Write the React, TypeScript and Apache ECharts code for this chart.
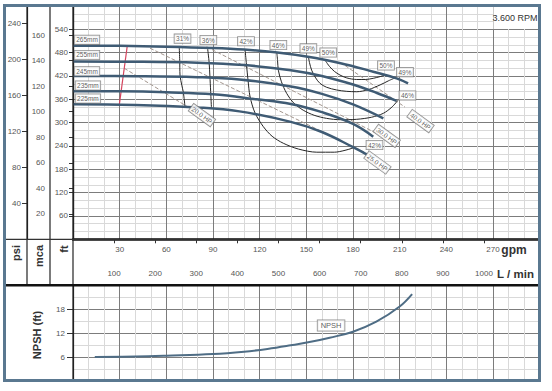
import React, { useEffect, useRef } from 'react';
import * as echarts from 'echarts';

// ---------------- data ----------------
const GPM_MAX = 300;
const FT_MAX = 600;
const FT_PER_PSI = 2.31;
const FT_PER_M = 3.281;
const LPM_PER_GPM = 3.78541;

const gpmTicks = [30, 60, 90, 120, 150, 180, 210, 240, 270];
const lpmTicks = [100, 200, 300, 400, 500, 600, 700, 800, 900, 1000];
const ftTicks = [60, 120, 180, 240, 300, 360, 420, 480, 540];
const mcaTicks = [20, 40, 60, 80, 100, 120, 140, 160];
const psiTicks = [40, 80, 120, 160, 200, 240];
const npshTicks = [6, 12, 18];

// head curves [gpm, ft]
const head265 = [[0, 498], [30, 497.5], [60, 495.5], [90, 492], [110, 488], [130, 481], [150, 470], [172, 453], [193, 431], [208, 414], [215.4, 401]];
const head255 = [[0, 457], [40, 456.5], [80, 454], [110, 448], [140, 435], [160, 420], [180, 398], [195, 377], [208, 356]];
const head245 = [[0, 420], [40, 419.5], [80, 417], [107, 411], [140, 393], [160, 374], [180, 347], [199.5, 311]];
const head235 = [[0, 381], [30, 380.5], [60, 378], [90, 373], [118, 360], [140, 348], [160, 327], [180, 297], [193, 264]];
const head225 = [[0, 347], [40, 345.5], [80, 339], [107, 329], [140, 302], [160, 276], [180, 237], [189, 218]];

// iso-efficiency curves [gpm, ft]
const eff31 = [[68.3, 494], [68.6, 460], [68.8, 422], [70, 395], [70.9, 379], [72, 341]];
const eff36 = [[86.5, 492], [87.5, 455], [88, 420], [88.5, 380], [89, 337]];
const eff42 = [[110.6, 488], [111.5, 450], [112.5, 410], [113.8, 367], [117, 325], [122.3, 290], [128, 265], [135.2, 247], [145, 232], [156.7, 224], [168, 224], [180.2, 235]];
const eff46 = [[131, 481], [131.5, 460], [132, 435], [134, 405], [137.4, 375], [142, 350], [148, 332], [155, 319], [163, 311], [172, 307.5], [182.4, 308.6], [192, 314], [199.5, 324], [205, 340], [209, 358]];
const eff49 = [[151.3, 470], [152, 455], [153.4, 435], [156, 415], [158.8, 401], [163, 391], [169.5, 384], [176, 380.5], [182.4, 379.5], [190, 385], [197.4, 397], [203, 408], [207, 415]];
const eff50 = [[162, 461], [163.5, 452], [165, 444], [168, 432], [171.6, 422.5], [176, 415], [182.4, 411], [188, 411], [193, 414], [197.5, 418.5], [201.7, 424]];

// power lines [gpm, ft]
const hp20 = [[32.9, 440], [75.2, 337]];
const hp25 = [[49.5, 491.5], [188.6, 221.7]];
const hp30 = [[85.9, 495], [194.7, 273.3]];
const hp40 = [[174.9, 447], [213.4, 340]];
const minFlow = [[34.9, 497.8], [29.8, 347]];

// NPSH required [gpm, ft]
const npsh = [[14, 6.1], [40, 6.2], [60, 6.4], [90, 6.8], [110, 7.4], [125, 8.1], [140, 9], [152, 9.8], [165, 10.9], [180, 12.4], [195, 14.9], [210, 18.7], [218, 21.8]];

// annotation anchors [text, gpm, ft]
const diameterLabels: [string, number, number][] = [
  ['265mm', 9, 513], ['255mm', 9, 474], ['245mm', 9, 432], ['235mm', 9.6, 395.5], ['225mm', 9.6, 362],
];
const effLabels: [string, number, number][] = [
  ['31%', 70.4, 516], ['36%', 87, 512.5], ['42%', 111.2, 509.5], ['46%', 132, 499.6], ['49%', 151.3, 491], ['50%', 164.1, 480.3],
  ['50%', 201.2, 447], ['49%', 213.4, 430], ['46%', 215, 370], ['42%', 193.8, 242.5],
];
const hpLabels: [string, number, number][] = [
  ['20.0 HP', 82.9, 319.4], ['25.0 HP', 195.7, 197.5], ['30.0 HP', 201.7, 266], ['40.0 HP', 223.4, 304],
];
const npshLabel: [string, number, number] = ['NPSH', 165.9, 13.95];

const FONT = '"Liberation Sans", Arial, sans-serif';

export default function App() {
  const ref = useRef<HTMLDivElement>(null);
  useEffect(() => {
    const chart = echarts.init(ref.current!, null, { renderer: 'svg' });
    const majorGrid = { show: true, lineStyle: { color: '#7c7c7c', width: 1 } };
    const minorGrid = { show: true, lineStyle: { color: '#d9d9d9', width: 1 } };
    const lbl = { color: '#555', fontSize: 8, fontFamily: FONT, formatter: (v: number) => String(v) };
    const axLine = { show: true, lineStyle: { color: '#222', width: 1.2 } };
    const tick = (vals: number[], len: number) => ({ show: true, inside: false, length: len, customValues: vals, lineStyle: { color: '#333', width: 1 } });

    const line = (data: number[][], color: string, width: number, z: number, smooth: number | boolean, type: any = 'solid', xi = 0, yi = 0) => ({
      type: 'line', data, xAxisIndex: xi, yAxisIndex: yi, smooth, symbol: 'none', silent: true, z,
      lineStyle: { color, width, type },
    });

    const boxLabel = {
      show: true, position: 'inside', formatter: '{b}', fontSize: 6.5, fontFamily: FONT, color: '#333',
      backgroundColor: '#fff', borderColor: '#777', borderWidth: 0.8, padding: [1, 1.5, 0.5, 1.5], lineHeight: 7,
    };

    const labelData = [
      ...diameterLabels.map(([t, x, y]) => ({ name: t, value: [x, y] })),
      ...effLabels.map(([t, x, y]) => ({ name: t, value: [x, y] })),
      ...hpLabels.map(([t, x, y]) => ({ name: t, value: [x, y], label: { rotate: -36 } })),
    ];

    const headColor = '#3f5b74';

    chart.setOption({
      animation: false,
      backgroundColor: '#fff',
      grid: [
        { left: 73, top: 6, width: GPM_MAX * 1.5556, height: 233.3 },
        { left: 73, top: 285.3, width: GPM_MAX * 1.5556, height: 96 },
      ],
      xAxis: [
        {
          gridIndex: 0, type: 'value', min: 0, max: GPM_MAX, interval: 30,
          axisLine: { show: true, lineStyle: { color: '#333', width: 1.2 } }, axisTick: { show: false },
          axisLabel: { ...lbl, margin: 6, customValues: gpmTicks },
          splitLine: majorGrid, minorTick: { show: false, splitNumber: 3 }, minorSplitLine: minorGrid,
        },
        {
          gridIndex: 0, type: 'value', position: 'bottom', offset: 23.4, min: 0, max: GPM_MAX * LPM_PER_GPM,
          axisLine: { show: true, lineStyle: { color: '#111', width: 2.5 } },
          axisTick: tick(lpmTicks, 4),
          axisLabel: { ...lbl, margin: 6.5, customValues: lpmTicks },
          splitLine: { show: false },
        },
        {
          gridIndex: 1, type: 'value', min: 0, max: GPM_MAX, interval: 30,
          axisLine: { show: false }, axisTick: { show: false }, axisLabel: { show: false },
          splitLine: majorGrid, minorTick: { show: false, splitNumber: 3 }, minorSplitLine: minorGrid,
        },
      ],
      yAxis: [
        {
          gridIndex: 0, type: 'value', min: 0, max: FT_MAX, interval: 60, position: 'left',
          axisLine: axLine, axisTick: tick(ftTicks, 4),
          axisLabel: { ...lbl, margin: 5, customValues: ftTicks },
          splitLine: majorGrid, minorTick: { show: false, splitNumber: 3 }, minorSplitLine: minorGrid,
        },
        {
          gridIndex: 0, type: 'value', min: 0, max: FT_MAX / FT_PER_M, position: 'left', offset: 23,
          axisLine: axLine, axisTick: tick(mcaTicks, 4),
          axisLabel: { ...lbl, margin: 5, customValues: mcaTicks }, splitLine: { show: false },
        },
        {
          gridIndex: 0, type: 'value', min: 0, max: FT_MAX / FT_PER_PSI, position: 'left', offset: 46,
          axisLine: axLine, axisTick: tick(psiTicks, 5),
          axisLabel: { ...lbl, margin: 6, customValues: psiTicks }, splitLine: { show: false },
        },
        {
          gridIndex: 1, type: 'value', min: 0, max: 24, interval: 6, position: 'left',
          axisLine: axLine, axisTick: tick(npshTicks, 6),
          axisLabel: { ...lbl, margin: 8, customValues: npshTicks },
          splitLine: majorGrid, minorTick: { show: false, splitNumber: 2 }, minorSplitLine: minorGrid,
        },
      ],
      series: [
        line(hp20, '#a3968e', 1, 2, false, [4, 2]),
        line(hp25, '#a3968e', 1, 2, false, [4, 2]),
        line(hp30, '#a3968e', 1, 2, false, [4, 2]),
        line(hp40, '#a3968e', 1, 2, false, [4, 2]),
        line(minFlow, '#d4445e', 1.2, 3, false),
        line(eff31, '#262626', 1, 3, 0.3),
        line(eff36, '#262626', 1, 3, 0.3),
        line(eff42, '#262626', 1, 3, 0.3),
        line(eff46, '#262626', 1, 3, 0.3),
        line(eff49, '#262626', 1, 3, 0.3),
        line(eff50, '#262626', 1, 3, 0.3),
        line(head265, headColor, 2.5, 4, 0.4),
        line(head255, headColor, 2.5, 4, 0.4),
        line(head245, headColor, 2.5, 4, 0.4),
        line(head235, headColor, 2.5, 4, 0.4),
        line(head225, headColor, 2.5, 4, 0.4),
        line(npsh, '#4f6d85', 2, 4, 0.4, 'solid', 2, 3),
        {
          type: 'scatter', xAxisIndex: 0, yAxisIndex: 0, symbolSize: 1, silent: true, z: 6,
          itemStyle: { color: 'rgba(0,0,0,0)' }, data: labelData, label: boxLabel,
        },
        {
          type: 'scatter', xAxisIndex: 2, yAxisIndex: 3, symbolSize: 1, silent: true, z: 6,
          itemStyle: { color: 'rgba(0,0,0,0)' },
          data: [{ name: npshLabel[0], value: [npshLabel[1], npshLabel[2]] }],
          label: { ...boxLabel, fontSize: 7.5, lineHeight: 8, padding: [1.5, 3, 1, 3] },
        },
      ],
      graphic: [
        { type: 'rect', z: 10, shape: { x: 493.4, y: 6, width: 46, height: 23 }, style: { fill: '#fff' } },
        { type: 'text', z: 11, x: 515, y: 18, style: { text: '3.600 RPM', fontSize: 9, fontFamily: FONT, fill: '#333', align: 'center', verticalAlign: 'middle' } },
        { type: 'line', z: 12, shape: { x1: 27, y1: 6, x2: 27, y2: 285 }, style: { stroke: '#222', lineWidth: 1.2 } },
        { type: 'line', z: 12, shape: { x1: 50, y1: 6, x2: 50, y2: 285 }, style: { stroke: '#222', lineWidth: 1.2 } },
        { type: 'line', z: 12, shape: { x1: 73, y1: 6, x2: 73, y2: 381 }, style: { stroke: '#222', lineWidth: 1.2 } },
        { type: 'line', z: 12, shape: { x1: 5, y1: 239.3, x2: 539, y2: 239.3 }, style: { stroke: '#333', lineWidth: 1.2 } },
        { type: 'line', z: 12, shape: { x1: 5, y1: 285.3, x2: 539, y2: 285.3 }, style: { stroke: '#111', lineWidth: 2.6 } },
        { type: 'text', z: 12, x: 16, y: 253, rotation: Math.PI / 2, style: { text: 'psi', fontSize: 11, fontWeight: 'bold', fontFamily: FONT, fill: '#333', align: 'center', verticalAlign: 'middle' } },
        { type: 'text', z: 12, x: 38.5, y: 256, rotation: Math.PI / 2, style: { text: 'mca', fontSize: 11, fontWeight: 'bold', fontFamily: FONT, fill: '#333', align: 'center', verticalAlign: 'middle' } },
        { type: 'text', z: 12, x: 64, y: 249, rotation: Math.PI / 2, style: { text: 'ft', fontSize: 11, fontWeight: 'bold', fontFamily: FONT, fill: '#333', align: 'center', verticalAlign: 'middle' } },
        { type: 'text', z: 12, x: 514, y: 250, style: { text: 'gpm', fontSize: 12, fontWeight: 'bold', fontFamily: FONT, fill: '#333', align: 'center', verticalAlign: 'middle' } },
        { type: 'text', z: 12, x: 515.5, y: 274, style: { text: 'L / min', fontSize: 11.5, fontWeight: 'bold', fontFamily: FONT, fill: '#333', align: 'center', verticalAlign: 'middle' } },
        { type: 'text', z: 12, x: 37, y: 335, rotation: Math.PI / 2, style: { text: 'NPSH (ft)', fontSize: 11, fontWeight: 'bold', fontFamily: FONT, fill: '#333', align: 'center', verticalAlign: 'middle' } },
        { type: 'rect', z: 50, shape: { x: 4.5, y: 5.5, width: 535, height: 375 }, style: { fill: 'none', stroke: '#5a7890', lineWidth: 3 } },
      ],
    });
    return () => chart.dispose();
  }, []);
  return <div ref={ref} style={{ position: 'absolute', left: 0, top: 0, width: 552, height: 391 }} />;
}
